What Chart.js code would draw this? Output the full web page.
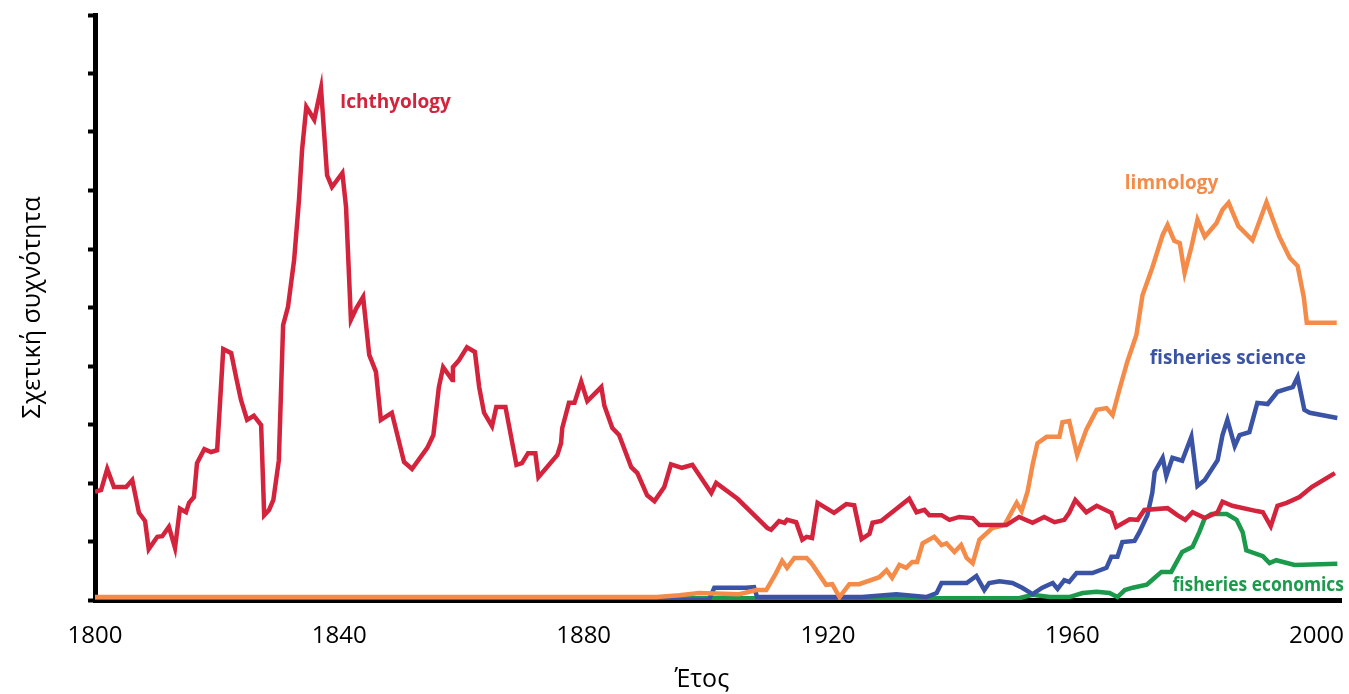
<!DOCTYPE html>
<html lang="el">
<head>
    <meta charset="UTF-8">
    <title>Σχετική συχνότητα</title>
    <script src="https://cdn.jsdelivr.net/npm/chart.js@4.4.1/dist/chart.umd.min.js"></script>
    <style>
        html, body { margin: 0; padding: 0; background: #fff; }
        #wrap { width: 1349px; height: 694px; }
    </style>
</head>
<body>
    <div id="wrap"><canvas id="myChart" width="1349" height="694"></canvas></div>

    <script>
        // x axis tick labels
        var xTicks = [1800, 1840, 1880, 1920, 1960, 2000];
        var yTicks = [0, 1, 2, 3, 4, 5, 6, 7, 8, 9, 10];

        // Ichthyology
        var ichYears = [1800, 1801, 1802, 1803.1, 1805.1, 1806.1, 1807.2, 1808.2, 1808.8, 1810.2, 1811, 1812.1, 1813.1, 1813.9, 1814.9, 1815.4, 1816.2, 1816.7, 1817.9, 1819, 1820,
            1821, 1822.3, 1823.1, 1823.9, 1824.9, 1826, 1827.2, 1827.7, 1828.5, 1829.2, 1830.1, 1830.8, 1831.6, 1832.6, 1833.4, 1833.9, 1834.6, 1835.9, 1837, 1838, 1838.8,
            1840.5, 1841.1, 1841.9, 1842.8, 1843.9, 1844.9, 1846, 1846.8, 1848.6, 1850.6, 1851.9, 1854.4, 1855.4, 1856.3, 1857, 1858.5, 1858.6, 1859.6, 1860.9, 1862.2, 1862.9,
            1863.7, 1865, 1865.7, 1867.2, 1869, 1869.9, 1870.9, 1872.1, 1872.6, 1875.7, 1876.3, 1876.5, 1877.6, 1878.5, 1879.6, 1880.6, 1882.9, 1883.4, 1884.7, 1885.8, 1887.8,
            1888.8, 1890.4, 1891.6, 1893.2, 1894.3, 1896.1, 1897.8, 1900.9, 1901.7, 1905.2, 1910.1, 1910.7, 1912, 1912.9, 1913.3, 1914.8, 1915.8, 1916.5, 1917.4, 1918.3, 1921,
            1923, 1924.3, 1925.5, 1926.8, 1927.3, 1928.7, 1933.3, 1934.5, 1935.8, 1936.6, 1938.6, 1939.9, 1941.5, 1943.7, 1944.8, 1946.9, 1949.2, 1951.3, 1953.5, 1955.4, 1957.1,
            1958.7, 1959.5, 1960.5, 1962.3, 1964, 1966.4, 1967.2, 1969.4, 1970.7, 1971.8, 1975.6, 1977.2, 1978.5, 1979.7, 1981.7, 1983.8, 1984.6, 1986.2, 1990.2, 1991.2, 1992.5,
            1993.6, 1995.1, 1997.2, 1999.2, 2003];
        var ichValues = [1.85, 1.88, 2.24, 1.93, 1.93, 2.05, 1.49, 1.35, 0.87, 1.08, 1.09, 1.25, 0.89, 1.56, 1.5, 1.66, 1.76, 2.34, 2.58, 2.53, 2.56,
            4.29, 4.22, 3.81, 3.42, 3.08, 3.15, 2.99, 1.45, 1.54, 1.71, 2.39, 4.7, 5.01, 5.81, 6.84, 7.69, 8.43, 8.21, 8.75, 7.26, 7.06,
            7.3, 6.72, 4.79, 4.99, 5.18, 4.19, 3.9, 3.08, 3.2, 2.36, 2.24, 2.6, 2.82, 3.64, 3.98, 3.76, 3.98, 4.1, 4.32, 4.24, 3.64,
            3.2, 2.97, 3.3, 3.3, 2.31, 2.34, 2.51, 2.51, 2.1, 2.48, 2.68, 2.94, 3.37, 3.37, 3.73, 3.4, 3.64, 3.32, 2.94, 2.82, 2.27,
            2.17, 1.79, 1.69, 1.93, 2.32, 2.26, 2.31, 1.83, 2.0, 1.73, 1.23, 1.2, 1.35, 1.32, 1.37, 1.33, 1.03, 1.08, 1.06, 1.66, 1.49,
            1.64, 1.62, 1.04, 1.13, 1.32, 1.35, 1.73, 1.5, 1.54, 1.45, 1.45, 1.37, 1.42, 1.4, 1.28, 1.28, 1.28, 1.42, 1.32, 1.42, 1.33,
            1.37, 1.49, 1.71, 1.5, 1.61, 1.49, 1.25, 1.38, 1.37, 1.54, 1.57, 1.45, 1.37, 1.5, 1.4, 1.5, 1.68, 1.61, 1.52, 1.5, 1.26,
            1.61, 1.66, 1.76, 1.93, 2.17];

        // limnology
        var limYears = [1800, 1892, 1895.7, 1898.9, 1905.5, 1908.3, 1909.9, 1911.5, 1912.5, 1913.3, 1914.5, 1916.5, 1917.3, 1919.7, 1920.7, 1921.9, 1923.5, 1925.1,
            1928.4, 1929.6, 1930.5, 1931.7, 1932.8, 1933.8, 1934.6, 1935.5, 1937.4, 1938.6, 1939.4, 1940.7, 1941.8, 1942.7, 1943.7, 1944.8, 1946.9, 1948.9, 1950.9,
            1951.7, 1952.7, 1953.5, 1954.3, 1955.8, 1957.9, 1958.4, 1959.5, 1960.8, 1962.3, 1964, 1965.6, 1966.6, 1967.7, 1969, 1970.5, 1971.5, 1973.1, 1974.8, 1975.6,
            1976.7, 1977.6, 1978.4, 1979.5, 1980.5, 1981.7, 1983.6, 1984.6, 1985.6, 1987.2, 1989.5, 1991.8, 1993.9, 1995.6, 1996.9, 1997.9, 1998.4, 2003.3];
        var limValues = [0.05, 0.05, 0.08, 0.12, 0.1, 0.17, 0.17, 0.46, 0.67, 0.55, 0.72, 0.72, 0.63, 0.26, 0.27, 0.05, 0.27, 0.27,
            0.39, 0.51, 0.38, 0.6, 0.55, 0.65, 0.65, 0.97, 1.08, 0.94, 0.97, 0.82, 0.94, 0.72, 0.63, 1.03, 1.23, 1.28, 1.66,
            1.52, 1.86, 2.31, 2.68, 2.79, 2.79, 3.04, 3.06, 2.48, 2.91, 3.25, 3.28, 3.16, 3.59, 4.07, 4.53, 5.21, 5.68, 6.24, 6.41,
            6.14, 6.1, 5.59, 6.03, 6.5, 6.21, 6.44, 6.67, 6.79, 6.39, 6.15, 6.8, 6.21, 5.85, 5.71, 5.18, 4.74, 4.74];

        // fisheries science
        var sciYears = [1800, 1900.5, 1901.4, 1906.6, 1907.9, 1908.4, 1925.6, 1931.2, 1936.1, 1937.8, 1938.6, 1942.7, 1944.3, 1945.6, 1946.4, 1948.1, 1950.2,
            1951.8, 1953.5, 1955.1, 1956.8, 1957.6, 1958.7, 1959.5, 1960.7, 1963.3, 1965.6, 1966.4, 1967.4, 1968.2, 1970.2, 1971, 1972.3, 1973.1, 1973.5, 1974.8,
            1975.4, 1976.4, 1978, 1979.5, 1980.5, 1981.7, 1983.8, 1984.6, 1985.4, 1986.6, 1987.4, 1989, 1990.3, 1992, 1993.6, 1995.1, 1996.1, 1996.9, 1998,
            1998.9, 2003.4];
        var sciValues = [0, 0, 0.21, 0.21, 0.22, 0.05, 0.05, 0.1, 0.05, 0.12, 0.29, 0.29, 0.41, 0.17, 0.29, 0.32, 0.29,
            0.21, 0.1, 0.21, 0.29, 0.19, 0.34, 0.31, 0.46, 0.46, 0.55, 0.74, 0.74, 0.99, 1.01, 1.16, 1.45, 1.83, 2.19, 2.43,
            2.12, 2.43, 2.38, 2.79, 1.95, 2.05, 2.39, 2.82, 3.08, 2.63, 2.82, 2.87, 3.37, 3.35, 3.56, 3.61, 3.64, 3.81, 3.25,
            3.2, 3.11];

        // fisheries economics
        var ecoYears = [1800, 1893, 1895, 1920, 1948.1, 1951.3, 1953.5, 1956.3, 1959.5, 1961.7, 1964, 1966.1, 1967.4, 1968.6, 1969.9, 1972.2, 1973.5, 1974.6,
            1976.2, 1978, 1979.7, 1980.8, 1981.7, 1982.8, 1985.3, 1986.9, 1987.9, 1988.5, 1991.2, 1992.3, 1993.4, 1996.4, 2003.4];
        var ecoValues = [0, 0, 0.03, 0.03, 0.03, 0.03, 0.09, 0.05, 0.05, 0.12, 0.14, 0.12, 0.05, 0.17, 0.21, 0.26, 0.38, 0.48,
            0.48, 0.82, 0.91, 1.16, 1.4, 1.47, 1.47, 1.37, 1.16, 0.85, 0.75, 0.63, 0.68, 0.6, 0.62];

        // series names and colours
        var seriesNames = ['Ichthyology', 'limnology', 'fisheries science', 'fisheries economics'];
        var seriesColors = ['#d4233c', '#f58b48', '#3a53a4', '#1b9a4b'];

        // in-chart labels, anchored in data units (year, value)
        var labelYears = [1840.1, 1968.6, 1972.7, 1976.4];
        var labelValues = [8.5, 7.11, 4.12, 0.24];

        var xTitle = 'Έτος';
        var yTitle = 'Σχετική συχνότητα';

        function toPoints(xs, ys) {
            return xs.map(function (x, i) { return { x: x, y: ys[i] }; });
        }

        var allYears = [ichYears, limYears, sciYears, ecoYears];
        var allValues = [ichValues, limValues, sciValues, ecoValues];

        var datasets = seriesNames.map(function (name, i) {
            return {
                label: name,
                data: toPoints(allYears[i], allValues[i]),
                borderColor: seriesColors[i],
                backgroundColor: seriesColors[i],
                borderWidth: 4.5,
                pointRadius: 0,
                tension: 0,
                fill: false
            };
        });

        var fontFamily = '"Open Sans", "DejaVu Sans", sans-serif';

        // series names drawn inside the plot, plus the x title centred under the labelled range
        var seriesLabels = {
            id: 'seriesLabels',
            afterDatasetsDraw: function (chart) {
                var ctx = chart.ctx;
                var xs = chart.scales.x, ys = chart.scales.y;
                ctx.save();
                ctx.font = 'bold 19px ' + fontFamily;
                ctx.textAlign = 'left';
                ctx.textBaseline = 'middle';
                seriesNames.forEach(function (name, i) {
                    var px = xs.getPixelForValue(labelYears[i]);
                    ctx.fillStyle = seriesColors[i];
                    // keep the text inside the canvas
                    ctx.fillText(name, px, ys.getPixelForValue(labelValues[i]), chart.width - px - 5);
                });

                ctx.font = '25px ' + fontFamily;
                ctx.fillStyle = '#000';
                ctx.textAlign = 'center';
                var mid = (xTicks[0] + xTicks[xTicks.length - 1]) / 2;
                ctx.fillText(xTitle, xs.getPixelForValue(mid) - 4, chart.height - 14);
                ctx.restore();
            }
        };

        var ctx = document.getElementById('myChart').getContext('2d');
        var myChart = new Chart(ctx, {
            type: 'line',
            data: { datasets: datasets },
            plugins: [seriesLabels],
            options: {
                responsive: false,
                animation: false,
                layout: { padding: { top: 15, right: 8, left: 0, bottom: 0 } },
                plugins: {
                    legend: { display: false },
                    tooltip: { enabled: false }
                },
                scales: {
                    x: {
                        type: 'linear',
                        min: 1800,
                        max: 2004,
                        afterBuildTicks: function (scale) {
                            scale.ticks = xTicks.map(function (v) { return { value: v }; });
                        },
                        afterFit: function (scale) {
                            scale.height = 94;
                            scale.paddingLeft = 0;
                            scale.paddingRight = 0;
                        },
                        grid: { display: true, drawOnChartArea: false, drawTicks: false },
                        border: { display: true, color: '#000', width: 5 },
                        ticks: {
                            color: '#000',
                            padding: 22,
                            font: { family: fontFamily, size: 24 },
                            maxRotation: 0,
                            callback: function (v) { return String(v); }
                        }
                    },
                    y: {
                        min: 0,
                        max: 10,
                        afterBuildTicks: function (scale) {
                            scale.ticks = yTicks.map(function (v) { return { value: v }; });
                        },
                        afterFit: function (scale) {
                            scale.width = 95;
                            scale.paddingTop = 0;
                            scale.paddingBottom = 0;
                        },
                        grid: { drawOnChartArea: false, drawTicks: true, tickLength: 7, tickWidth: 4, tickColor: '#000' },
                        border: { display: true, color: '#000', width: 5 },
                        ticks: { display: false },
                        title: {
                            display: true,
                            text: yTitle,
                            color: '#000',
                            font: { family: fontFamily, size: 25 },
                            padding: { top: 18, bottom: 0 }
                        }
                    }
                }
            }
        });
    </script>
</body>
</html>
